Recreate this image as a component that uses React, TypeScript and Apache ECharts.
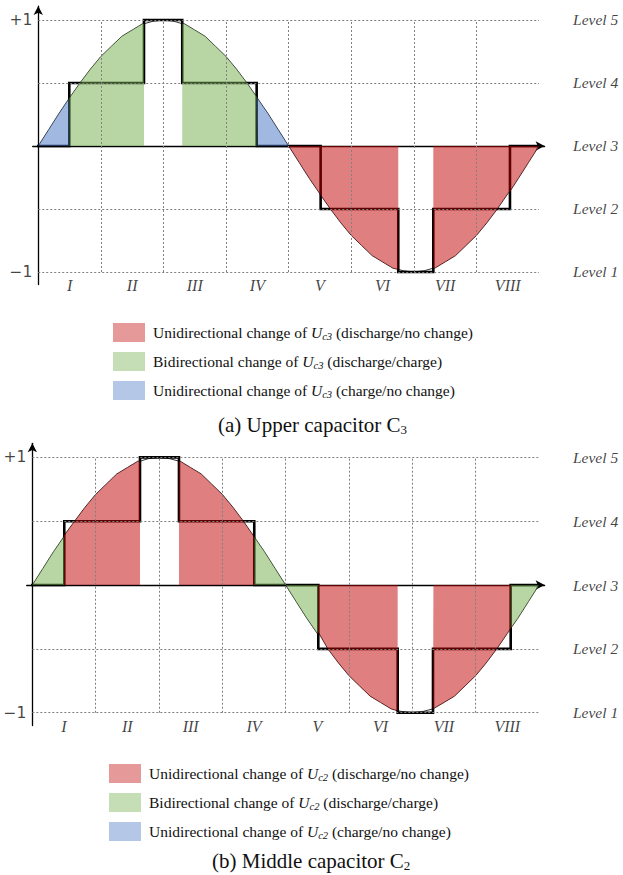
import React, { useEffect, useRef } from "react";
import * as echarts from "echarts";

// Reference waveform, angle in degrees
const curveAngles = [
  0, 7.5, 15, 22.5, 30, 37.5, 45, 52.5, 60, 67.5, 75, 82.5, 90, 97.5, 105, 112.5, 120, 127.5, 135, 142.5, 150, 157.5,
  165, 172.5, 180, 187.5, 195, 202.5, 210, 217.5, 225, 232.5, 240, 247.5, 255, 262.5, 270, 277.5, 285, 292.5, 300,
  307.5, 315, 322.5, 330, 337.5, 345, 352.5, 360,
];
const curveValues = [
  0, 0.13, 0.26, 0.38, 0.5, 0.61, 0.71, 0.79, 0.87, 0.92, 0.97, 0.99, 1, 0.99, 0.97, 0.92, 0.87, 0.79, 0.71, 0.61, 0.5,
  0.38, 0.26, 0.13, 0, -0.13, -0.26, -0.38, -0.5, -0.61, -0.71, -0.79, -0.87, -0.92, -0.97, -0.99, -1, -0.99, -0.97,
  -0.92, -0.87, -0.79, -0.71, -0.61, -0.5, -0.38, -0.26, -0.13, 0,
];

// Switching angles of the staircase and the waveform value read at each of them
const topStepAngles = [22.3, 76, 103.5, 157, 203, 258.8, 284, 339.1];
const topStepCurve = [0.38, 0.97, 0.97, 0.39, -0.39, -0.98, -0.97, -0.36];
const bottomStepAngles = [22.7, 76.5, 104.2, 157.7, 203.2, 259.6, 284.7, 339.9];
const bottomStepCurve = [0.39, 0.97, 0.97, 0.38, -0.37, -0.985, -0.97, -0.34];
// staircase level reached after each switching angle
const stepLevels = [0.5, 1, 0.5, 0, -0.5, -1, -0.5, 0];

const levelNames = ["Level 5", "Level 4", "Level 3", "Level 2", "Level 1"];
const levelValues = [1, 0.5, 0, -0.5, -1];
const sectorNames = ["I", "II", "III", "IV", "V", "VI", "VII", "VIII"];
const sectorCenters = [22.5, 67.5, 112.5, 157.5, 202.5, 247.5, 292.5, 337.5];
const gridXValues = [45, 90, 135, 180, 225, 270, 315];
const gridYValues = [-1, -0.5, 0.5, 1];
const yTickNames = ["+1", "\u22121"];
const yTickValues = [1, -1];

const legendTop = [
  "Unidirectional change of {u|U}{s|c3} (discharge/no change)",
  "Bidirectional change of {u|U}{s|c3} (discharge/charge)",
  "Unidirectional change of {u|U}{s|c3} (charge/no change)",
];
const legendBottom = [
  "Unidirectional change of {u|U}{s|c2} (discharge/no change)",
  "Bidirectional change of {u|U}{s|c2} (discharge/charge)",
  "Unidirectional change of {u|U}{s|c2} (charge/no change)",
];
const captions = ["(a) Upper capacitor C{s|3}", "(b) Middle capacitor C{s|2}"];

type Kind = "red" | "green" | "blue";
const T = topStepAngles;
const B = bottomStepAngles;
const topRegions: [number, number, Kind][] = [
  [0, T[0], "blue"],
  [T[0], T[1], "green"],
  [T[2], T[3], "green"],
  [T[3], 180, "blue"],
  [180, T[5], "red"],
  [T[6], 360, "red"],
];
const bottomRegions: [number, number, Kind][] = [
  [0, B[0], "green"],
  [B[0], B[1], "red"],
  [B[2], B[3], "red"],
  [B[3], B[4], "green"],
  [B[4], B[5], "red"],
  [B[6], B[7], "red"],
  [B[7], 360, "green"],
];

const fillColors: Record<Kind, string> = {
  red: "rgba(192,0,0,0.5)",
  green: "rgba(112,173,71,0.5)",
  blue: "rgba(68,114,196,0.5)",
};

const SERIF = "Liberation Serif";
const INK = "#111";

function mergedCurve(angles: number[], vals: number[]) {
  const pts = curveAngles.map((a, i) => [a, curveValues[i]]).concat(angles.map((a, i) => [a, vals[i]]));
  pts.sort((p, q) => p[0] - q[0]);
  return pts;
}

function chartSeries(g: number, stepA: number[], stepC: number[], regions: [number, number, Kind][], legendNames: string[]) {
  const pts = mergedCurve(stepA, stepC);
  const axes = { xAxisIndex: g, yAxisIndex: g };
  const s: any[] = [];
  const mk: any[] = [];
  gridYValues.forEach((v) => mk.push([{ coord: [0, v] }, { coord: [360, v] }]));
  gridXValues.forEach((v) => mk.push([{ coord: [v, -1] }, { coord: [v, 1] }]));
  s.push({
    type: "line",
    ...axes,
    data: [],
    z: 1,
    silent: true,
    markLine: {
      silent: true,
      symbol: "none",
      label: { show: false },
      lineStyle: { type: [2, 2], color: "#808080", width: 1 },
      data: mk,
    },
  });
  s.push({
    type: "line",
    ...axes,
    data: pts,
    z: 2,
    showSymbol: false,
    silent: true,
    lineStyle: { color: "#333", width: 1 },
  });
  const stepData = [[0, 0]].concat(stepA.map((a, i) => [a, stepLevels[i]])).concat([[360, 0]]);
  s.push({
    type: "line",
    ...axes,
    step: "end",
    data: stepData,
    z: 3,
    showSymbol: false,
    silent: true,
    lineStyle: { color: "#000", width: 2.6, join: "miter", cap: "square" },
  });
  regions.forEach(([a, b, kind], i) => {
    s.push({
      name: `r${g}-${i}`,
      type: "line",
      ...axes,
      data: pts.filter((p) => p[0] >= a && p[0] <= b),
      z: 4,
      showSymbol: false,
      silent: true,
      lineStyle: { width: 0, color: fillColors[kind] },
      areaStyle: { color: fillColors[kind], opacity: 1 },
    });
  });
  // legend entries
  (["red", "green", "blue"] as Kind[]).forEach((kind, i) => {
    s.push({ name: legendNames[i], type: "scatter", ...axes, data: [], itemStyle: { color: fillColors[kind] } });
  });
  // text labels
  s.push({
    type: "scatter",
    ...axes,
    z: 6,
    symbolSize: 0,
    silent: true,
    data: yTickNames.map((n, i) => ({ name: n, value: [0, yTickValues[i]] })),
    label: { show: true, position: "left", distance: 6, formatter: "{b}", fontFamily: "DejaVu Sans", fontSize: 15.5, color: INK },
  });
  s.push({
    type: "scatter",
    ...axes,
    z: 6,
    symbolSize: 0,
    silent: true,
    data: levelNames.map((n, i) => ({ name: n, value: [360, levelValues[i]] })),
    label: { show: true, position: "right", distance: 34, formatter: "{b}", fontFamily: SERIF, fontStyle: "italic", fontSize: 15.5, color: INK },
  });
  s.push({
    type: "scatter",
    ...axes,
    z: 6,
    symbolSize: 0,
    silent: true,
    data: sectorNames.map((n, i) => ({ name: n, value: [sectorCenters[i], -1] })),
    label: { show: true, position: "bottom", distance: 6, formatter: "{b}", fontFamily: SERIF, fontStyle: "italic", fontSize: 16, color: INK },
  });
  return s;
}

function axisPair(g: number) {
  const line = { show: true, onZero: true, symbol: ["none", "arrow"], symbolSize: [7, 9], lineStyle: { color: "#000", width: 1.3 } };
  return {
    x: { gridIndex: g, type: "value", min: -4, max: 364, axisLine: line, axisTick: { show: false }, axisLabel: { show: false }, splitLine: { show: false } },
    y: { gridIndex: g, type: "value", min: -1.1, max: 1.11, axisLine: line, axisTick: { show: false }, axisLabel: { show: false }, splitLine: { show: false } },
  };
}

const legendRich = {
  u: { fontFamily: SERIF, fontStyle: "italic", fontSize: 15.5, color: INK },
  s: { fontFamily: SERIF, fontStyle: "italic", fontSize: 10.5, color: INK, padding: [7, 0, 0, 0] },
};

export default function App() {
  const ref = useRef<HTMLDivElement>(null);
  useEffect(() => {
    if (!ref.current) return;
    const chart = echarts.init(ref.current, undefined, { renderer: "svg" });
    const a0 = axisPair(0);
    const a1 = axisPair(1);
    const namesTop = ["a-red", "a-green", "a-blue"];
    const namesBottom = ["b-red", "b-green", "b-blue"];
    const legendMap: Record<string, string> = {};
    namesTop.forEach((n, i) => (legendMap[n] = legendTop[i]));
    namesBottom.forEach((n, i) => (legendMap[n] = legendBottom[i]));
    const legendCommon = {
      orient: "vertical",
      itemWidth: 32,
      itemHeight: 19,
      itemGap: 10,
      icon: "rect",
      padding: 0,
      selectedMode: false,
      formatter: (n: string) => legendMap[n],
      textStyle: { fontFamily: SERIF, fontSize: 15.5, color: INK, padding: [0, 0, 0, 3], rich: legendRich },
    };
    chart.setOption({
      animation: false,
      textStyle: { fontFamily: SERIF },
      grid: [
        { left: 32.7, top: 6.1, width: 511.9, height: 278.5 },
        { left: 26.7, top: 443.3, width: 517.9, height: 282.2 },
      ],
      xAxis: [a0.x, a1.x],
      yAxis: [a0.y, a1.y],
      legend: [
        { ...legendCommon, data: namesTop, left: 113, top: 323 },
        { ...legendCommon, data: namesBottom, left: 109, top: 764 },
      ],
      title: captions.map((c, i) => ({
        text: c,
        left: i === 0 ? 218 : 212,
        top: i === 0 ? 414 : 850,
        padding: 0,
        textStyle: {
          fontFamily: SERIF,
          fontSize: 21,
          fontWeight: "normal",
          color: INK,
          rich: { s: { fontFamily: SERIF, fontSize: 13, color: INK, padding: [9, 0, 0, 0] } },
        },
      })),
      series: [
        ...chartSeries(0, topStepAngles, topStepCurve, topRegions, namesTop),
        ...chartSeries(1, bottomStepAngles, bottomStepCurve, bottomRegions, namesBottom),
      ],
    });
    return () => chart.dispose();
  }, []);
  return <div ref={ref} style={{ position: "absolute", left: 0, top: 0, width: 623, height: 875 }} />;
}
